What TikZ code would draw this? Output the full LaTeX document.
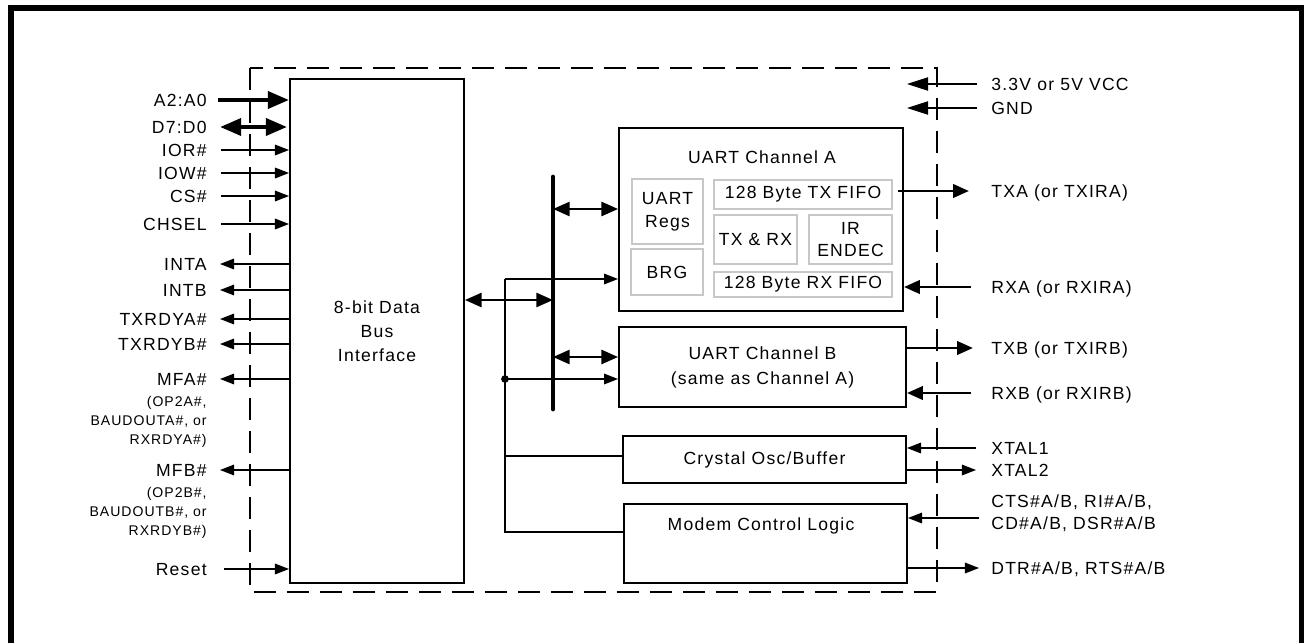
\documentclass[tikz,border=0pt]{standalone}
\usepackage{fontspec}
\setmainfont[LetterSpace=7]{Liberation Sans}
\usetikzlibrary{arrows.meta}

\begin{document}
\begin{tikzpicture}[x=0.02cm, y=-0.02cm, font=\fontsize{10}{12}\selectfont,
  blk/.style={draw, line width=1.1pt, inner sep=0pt, align=center},
  sub/.style={draw=black!22, line width=0.8pt, inner sep=0pt, align=center},
  pin/.style={inner sep=0pt, text height=7.2pt, text depth=0pt},
  note/.style={inner sep=0pt, align=right, font=\fontsize{8}{10.8}\selectfont},
  wire/.style={line width=0.85pt},
  sarr/.style={wire, -{Triangle[length=8pt, width=6pt]}},
  parr/.style={wire, -{Triangle[length=12pt, width=7.5pt]}},
  tarr/.style={line width=1.7pt, -{Triangle[length=9pt, width=7.5pt]}},
  barr/.style={line width=2.5pt, -{Triangle[length=12pt, width=9.5pt]}},
  bdarr/.style={line width=2.5pt,
    {Triangle[length=12pt, width=9.5pt]}-{Triangle[length=12pt, width=9.5pt]}},
  darr/.style={line width=1.4pt,
    {Triangle[length=9.5pt, width=8pt]}-{Triangle[length=9.5pt, width=8pt]}}
]
\useasboundingbox (0,0) rectangle (1304,642);
% frame and chip outline
\draw[line width=3.4pt] (11,660) -- (11,8) -- (1302,8) -- (1302,660);
\draw[wire, dash pattern=on 0.44cm off 0.22cm] (250,68) rectangle (937,592);

% blocks
\node[blk, minimum width=3.48cm, minimum height=10.08cm,
      font=\fontsize{10}{13.7}\selectfont] (bif) at (377,331) {8-bit Data\\Bus\\Interface};
\node[blk, minimum width=5.68cm, minimum height=3.66cm] (uarta) at (761,219.5) {};
\node[pin] (uartatl) at (762,157) {UART Channel A};
\node[sub, minimum width=1.42cm, minimum height=1.3cm,
      font=\fontsize{10}{13}\selectfont] (regs) at (667.5,211.5) {UART\\Regs};
\node[sub, minimum width=1.44cm, minimum height=0.92cm] (brg) at (667,272) {BRG};
\node[sub, minimum width=3.56cm, minimum height=0.58cm] (txfifo) at (803,194.5) {128 Byte TX FIFO};
\node[sub, minimum width=1.66cm, minimum height=0.98cm] (txrx) at (755.5,239.5) {TX \& RX};
\node[sub, minimum width=1.66cm, minimum height=0.98cm,
      font=\fontsize{10}{12.5}\selectfont] (endec) at (850.5,239.5) {IR\\ENDEC};
\node[sub, minimum width=3.56cm, minimum height=0.5cm] (rxfifo) at (803,284.5) {128 Byte RX FIFO};
\node[blk, minimum width=5.74cm, minimum height=1.6cm,
      font=\fontsize{10}{14.2}\selectfont] (uartb) at (762.5,367) {UART Channel B\\(same as Channel A)};
\node[blk, minimum width=5.66cm, minimum height=0.94cm] (xtal) at (764.5,459.5) {Crystal Osc/Buffer};
\node[blk, minimum width=5.66cm, minimum height=1.58cm] (modem) at (765.5,543.5) {};
\node[pin] (modemtl) at (761,524) {Modem Control Logic};

% internal bus
\coordinate (bustop) at (553,177);
\coordinate (busbot) at (553,409);
\draw[line width=2.8pt, line cap=round] (bustop) -- (busbot);
\coordinate (ybif) at (0,300);
\coordinate (yua) at (0,209);
\coordinate (yub) at (0,357);
\draw[darr] (bif.east |- ybif) -- (bustop |- ybif);
\draw[darr] (bustop |- yua) -- (uarta.west |- yua);
\draw[darr] (bustop |- yub) -- (uartb.west |- yub);

% select / clock lines
\coordinate (ctl) at (505,279);
\coordinate (ysel) at (0,379);
\coordinate (yxt) at (0,456);
\coordinate (ymod) at (0,532);
\draw[sarr] (ctl) -- (ctl -| uarta.west);
\draw[wire] (ctl) |- (modem.west |- ymod);
\draw[sarr] (ctl |- ysel) -- (uartb.west |- ysel);
\fill (ctl |- ysel) circle (2.2pt);
\draw[wire] (ctl |- yxt) -- (xtal.west |- yxt);

% host side pins
\node[pin, anchor=east] (a2) at (207,100) {A2:A0};
\node[pin, anchor=east] (d7) at (207,127) {D7:D0};
\node[pin, anchor=east] (ior) at (207,150) {IOR\#};
\node[pin, anchor=east] (iow) at (207,173) {IOW\#};
\node[pin, anchor=east] (cs) at (207,196) {CS\#};
\node[pin, anchor=east] (chsel) at (207,224) {CHSEL};
\node[pin, anchor=east] (inta) at (207,264) {INTA};
\node[pin, anchor=east] (intb) at (207,290) {INTB};
\node[pin, anchor=east] (txrdya) at (207,319) {TXRDYA\#};
\node[pin, anchor=east] (txrdyb) at (207,344) {TXRDYB\#};
\node[pin, anchor=east] (mfa) at (207,379) {MFA\#};
\node[note, anchor=east] (mfanote) at (207,422) {(OP2A\#,\\BAUDOUTA\#, or\\RXRDYA\#)};
\node[pin, anchor=east] (mfb) at (207,470) {MFB\#};
\node[note, anchor=east] (mfbnote) at (207,513) {(OP2B\#,\\BAUDOUTB\#, or\\RXRDYB\#)};
\node[pin, anchor=east] (reset) at (207,569) {Reset};

\draw[barr, shorten <=0.22cm] (a2) -- (a2 -| bif.west);
\draw[bdarr, shorten <=0.04cm] (d7 -| bif.west) -- ([xshift=0.26cm]d7.east);
\foreach \p in {ior, iow, cs, chsel}
  \draw[sarr, shorten <=0.28cm] (\p) -- (\p -| bif.west);
\foreach \p in {inta, intb, txrdya, txrdyb, mfa, mfb}
  \draw[sarr, shorten >=0.26cm] (\p -| bif.west) -- (\p);
\draw[sarr, shorten <=0.34cm] (reset) -- (reset -| bif.west);

% line side pins
\node[pin, anchor=west] (vcc) at (991,84) {3.3V or 5V VCC};
\node[pin, anchor=west] (gnd) at (991,108) {GND};
\node[pin, anchor=west] (txa) at (991,191) {TXA (or TXIRA)};
\node[pin, anchor=west] (rxa) at (991,287) {RXA (or RXIRA)};
\node[pin, anchor=west] (txb) at (991,348) {TXB (or TXIRB)};
\node[pin, anchor=west] (rxb) at (991,393) {RXB (or RXIRB)};
\node[pin, anchor=west] (xtal1) at (991,448) {XTAL1};
\node[pin, anchor=west] (xtal2) at (991,470) {XTAL2};
\node[inner sep=0pt, align=left, anchor=west,
      font=\fontsize{10}{12.5}\selectfont] (cts) at (991,513) {CTS\#A/B, RI\#A/B,\\CD\#A/B, DSR\#A/B};
\node[pin, anchor=west] (dtr) at (991,568) {DTR\#A/B, RTS\#A/B};
\coordinate (ctsin) at (979,518);

\draw[parr, shorten <=0.28cm] (vcc) -- (vcc -| uartb.east);
\draw[parr, shorten <=0.28cm] (gnd) -- (gnd -| uartb.east);
\draw[tarr, shorten <=0.1cm, shorten >=0.44cm] (txa -| txfifo.east) -- (txa);
\draw[tarr, shorten <=0.4cm] (rxa) -- (rxa -| uarta.east);
\draw[tarr, shorten >=0.36cm] (txb -| uartb.east) -- (txb);
\draw[tarr, shorten <=0.4cm] (rxb) -- (rxb -| uartb.east);
\draw[sarr, shorten <=0.3cm] (xtal1) -- (xtal1 -| xtal.east);
\draw[sarr, shorten >=0.3cm] (xtal2 -| xtal.east) -- (xtal2);
\draw[sarr] (ctsin) -- (ctsin -| modem.east);
\draw[sarr, shorten >=0.24cm] (dtr -| modem.east) -- (dtr);
\end{tikzpicture}
\end{document}
